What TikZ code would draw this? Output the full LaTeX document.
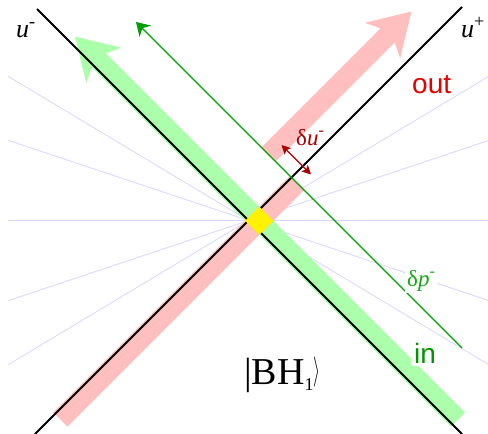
\documentclass[tikz,border=0pt]{standalone}
\usepackage{fontspec}
\setmainfont{Liberation Serif}
\setsansfont{Liberation Sans}
\usepackage{graphicx}
\usetikzlibrary{arrows.meta}
\definecolor{pinkband}{RGB}{255,191,191}
\definecolor{greenband}{RGB}{171,255,171}
\definecolor{rayblue}{RGB}{214,214,255}
\definecolor{shockgreen}{RGB}{0,160,0}
\definecolor{labelgreen}{RGB}{20,170,20}
\definecolor{ingreen}{RGB}{0,150,0}
\definecolor{outred}{RGB}{230,0,0}
\definecolor{shiftred}{RGB}{170,0,0}
\begin{document}
\begin{tikzpicture}[x=1pt,y=-1pt,
  ray/.style={draw=rayblue, line width=0.8pt},
  horizon/.style={draw=black, line width=1.8pt},
  band/.style={line width=20pt, line cap=butt},
  tag/.style={inner sep=2pt, anchor=base west, fill=white},
  sanslabel/.style={font=\sffamily\fontsize{28}{28}\selectfont},
  greeklabel/.style={font=\fontsize{23}{23}\selectfont},
  ulabel/.style={font=\fontsize{26}{26}\selectfont, fill=none}]
\useasboundingbox (0,0) rectangle (488,434);
% light blue rays through the crossing point
\coordinate (O) at (248.5,220.5);
\coordinate (r1a) at (8,76.2);   \coordinate (r1b) at (488.5,364.5);
\coordinate (r2a) at (8,140.3);  \coordinate (r2b) at (488.5,300.5);
\coordinate (r3a) at (8,220.5);  \coordinate (r3b) at (488.5,220.5);
\coordinate (r4a) at (8,300.7);  \coordinate (r4b) at (488.5,140.5);
\coordinate (r5a) at (8,364.8);  \coordinate (r5b) at (488.5,76.5);
\draw[ray] (r1a) -- (r1b);
\draw[ray] (r2a) -- (r2b);
\draw[ray] (r3a) -- (r3b);
\draw[ray] (r4a) -- (r4b);
\draw[ray] (r5a) -- (r5b);
% green "in" band with arrow head
\draw[band, greenband] (95.5,57) -- (458,419.5);
\fill[greenband] (75,36.5) -- (121.67,47.81) -- (95.5,57) -- (86.31,83.17) -- cycle;
% pink "out" band, lower part
\draw[band, pinkband] (60.5,419.5) -- (297,183);
% pink "out" band, shifted upper part with head
\draw[band, pinkband] (391,32) -- (268.5,154.5);
\fill[pinkband] (411.5,11.5) -- (400.19,58.17) -- (391,32) -- (364.83,22.81) -- cycle;
% horizons
\coordinate (um1) at (37,9);  \coordinate (um2) at (462,434);
\coordinate (up1) at (35,434); \coordinate (up2) at (462,7);
\draw[horizon] (um1) -- (um2);
\draw[horizon] (up1) -- (up2);
% yellow overlap
\fill[yellow] (245.1,220.75) -- (259.25,206.6) -- (273.4,220.75) -- (259.25,234.9) -- cycle;
% shock wave line
\coordinate (s1) at (462,348); \coordinate (s2) at (136,22);
\draw[shockgreen, line width=1.3pt, -{Stealth[length=13pt,width=16pt,inset=4pt]}] (s1) -- (s2);
% shift arrow
\coordinate (d1) at (281.5,145); \coordinate (d2) at (311,174.5);
\draw[shiftred, line width=1.4pt, {Stealth[length=9pt,width=9pt,inset=2pt]}-{Stealth[length=9pt,width=9pt,inset=2pt]}] (d1) -- (d2);
% labels
\node[tag, ulabel] (lum) at (14,37) {\textit{u}\textsuperscript{-}};
\node[tag, ulabel] (lup) at (459,37) {\textit{u}\textsuperscript{+}};
\node[tag, sanslabel, text=outred, inner sep=3pt] (lout) at (409,93) {out};
\node[tag, sanslabel, text=ingreen, inner sep=3pt] (lin) at (411,363) {in};
\node[tag, greeklabel, text=shiftred, fill=none] (ldu) at (294,145) {δ\textit{u}\textsuperscript{-}};
\node[tag, greeklabel, text=labelgreen] (ldp) at (405,286) {δ\textit{p}\textsuperscript{-}};
\node[tag, fill=none, font=\fontsize{38}{38}\selectfont] (lbh) at (242,384) {|BH\raisebox{-6pt}{\fontsize{18}{18}\selectfont 1}\raisebox{4.5pt}{\resizebox*{7pt}{30pt}{$\rangle$}}};
\end{tikzpicture}
\end{document}
